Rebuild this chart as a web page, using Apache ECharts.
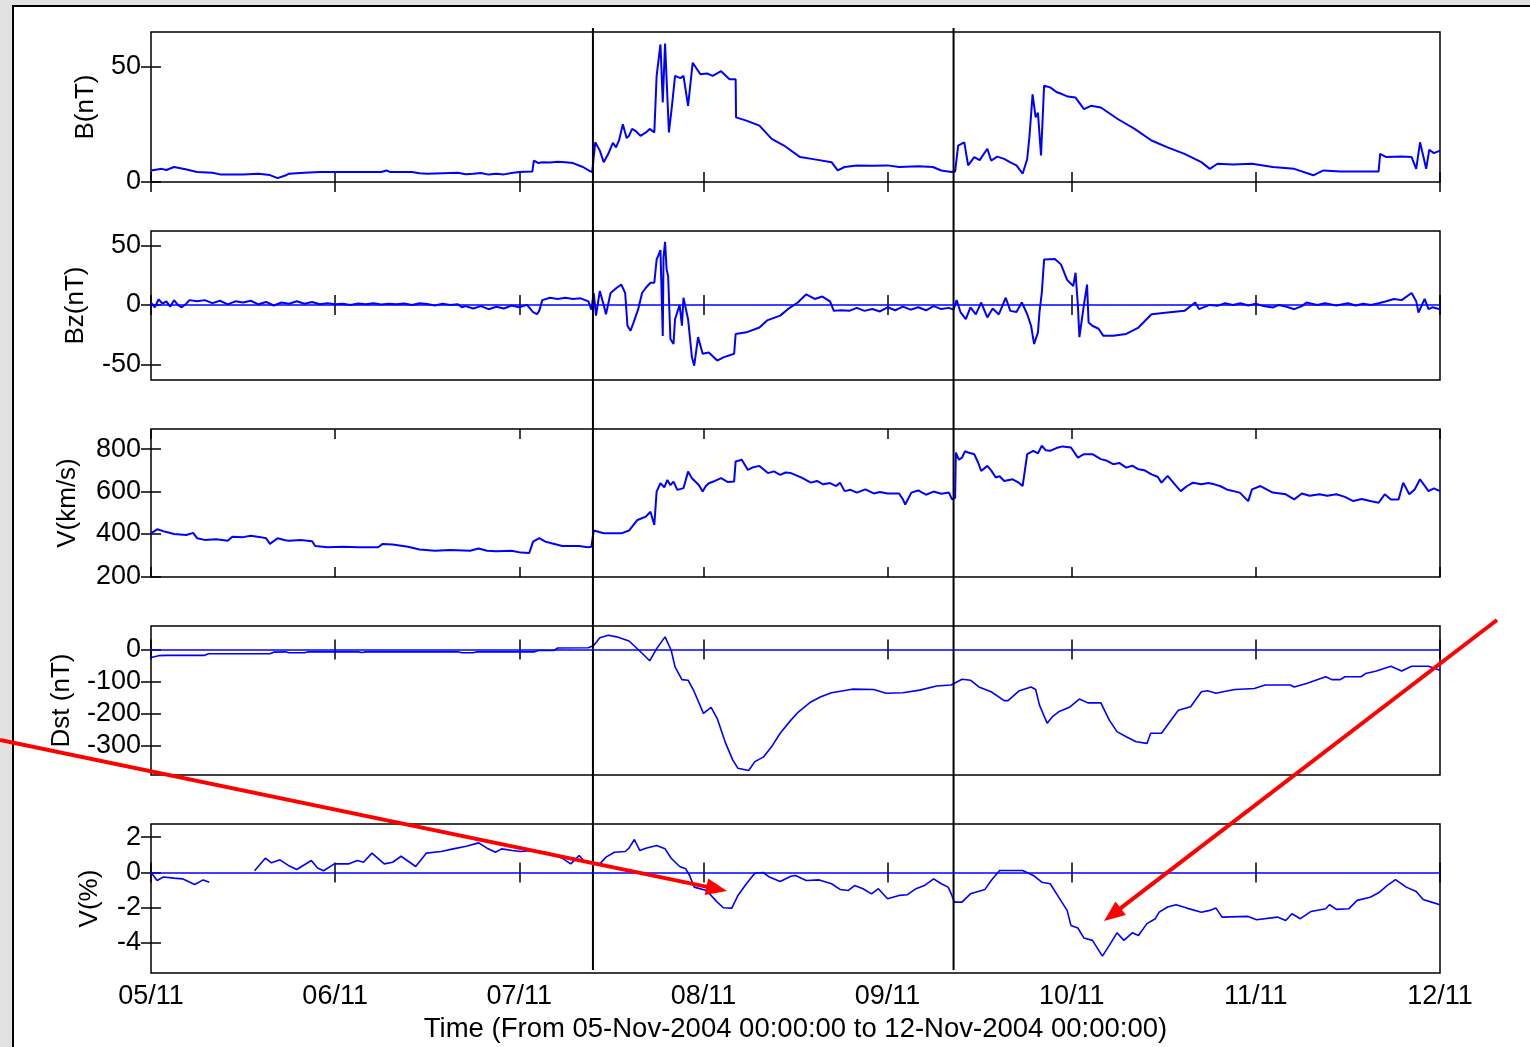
<!DOCTYPE html>
<html><head><meta charset="utf-8">
<script src="https://cdn.jsdelivr.net/npm/echarts@6/dist/echarts.min.js"></script>
<style>html,body{margin:0;padding:0;background:#e1e1e1}#c{width:1530px;height:1047px}</style>
</head><body><div id="c"></div>
<script>
// ---- Data (hours since 05-Nov-2004 00:00) ----
const xLabels = ['05/11','06/11','07/11','08/11','09/11','10/11','11/11','12/11'];
const xTitle = 'Time (From 05-Nov-2004 00:00:00 to 12-Nov-2004 00:00:00)';
const panelNames = ['B(nT)','Bz(nT)','V(km/s)','Dst (nT)','V(%)'];
const bTicks = [0,50];
const bzTicks = [-50,0,50];
const vTicks = [200,400,600,800];
const dstTicks = [-300,-200,-100,0];
const vpTicks = [-4,-2,0,2];
const eventHours = [57.6, 104.6];

const bData = [[0,5.0],[1.4,5.7],[2,5.2],[3,6.5],[4.5,5.5],[6,4.3],[8,4.0],[9,3.3],[10,3.2],[12,3.3],[14,3.6],[15.5,3.0],[16.5,1.7],[17.5,2.8],[18,3.6],[20,4.0],[22,4.3],[26,4.3],[30,4.3],[30.7,5.0],[31.2,4.3],[34,4.3],[35,3.8],[36,3.6],[38,3.8],[40,4.0],[41,3.4],[42,3.6],[43,3.9],[44,3.2],[45,3.6],[46,3.3],[47,3.9],[48,4.3],[49.7,4.5],[49.9,9.3],[50.5,8.2],[51,8.6],[52,8.4],[53,8.8],[54,8.6],[55,8.2],[56.3,6.5],[57.2,4.7],[57.5,4.3],[57.9,17.2],[58.5,13.6],[59,8.6],[59.6,12.2],[60.2,17],[60.6,15],[61,18],[61.5,25],[62,19],[62.3,20],[62.7,23],[63.2,22],[63.8,20],[64.5,21.5],[65,23],[65.6,21.5],[65.9,46],[66.4,59.6],[66.7,34.5],[67,60],[67.5,21.5],[67.9,33],[68.3,46],[69,45],[69.4,46],[70,33],[70.6,51.7],[71.6,46.7],[72.5,47],[73.2,46],[74.3,48],[75.4,44.5],[76.2,44.5],[76.25,28],[77.6,26.6],[79.3,24.4],[80.9,18.7],[82.5,15.8],[84.6,10.8],[86.5,9.8],[88.7,8.6],[89.5,5.0],[90.4,6.5],[92,7.2],[94,7.0],[96,7.2],[97.5,6.5],[100,6.8],[101.9,6.5],[103,5.0],[104.3,4.3],[104.8,4.5],[105.2,15.8],[106,17.2],[106.5,7.2],[107.3,10.8],[108,9.5],[109,14.4],[109.5,9.3],[110.3,11],[111.2,10],[112,8.5],[112.8,7.2],[113.6,3.6],[114.2,10],[114.5,20],[114.9,38],[115.3,28],[115.6,30],[116,11.5],[116.4,41.7],[117.2,41],[118,39],[118.8,38],[119.5,37],[120.5,36.6],[121.6,31.6],[122.5,33],[123.8,32.3],[126,27.3],[128.2,23],[130.4,18],[132.5,15],[134.7,12.2],[136.9,8.6],[138,5.7],[139,7.9],[141,7.6],[143.5,7.9],[146.2,6.5],[149,5.7],[151.5,2.9],[152.8,5.0],[155,4.6],[158,4.6],[160,4.6],[160.2,12.2],[161,10.8],[163,11],[164.3,10.8],[164.9,5.7],[165.4,17.2],[166.2,5.7],[166.6,14],[167.2,12.5],[168,13.6]];

const bzData = [[0,2],[0.5,-2],[1,4.7],[1.5,1],[2,3],[2.5,-1.5],[3,4],[3.5,0],[4,-2],[4.6,1],[5,4],[6,3],[7,4],[8,1.5],[9,3.5],[10,0.5],[11,3],[12,2],[13,3.5],[14,0.5],[15,2.5],[16,-0.5],[17,2],[18,1],[19,3],[20,1],[21,2.5],[22,0.5],[23,1.5],[24,0.5],[25,1],[26,0],[27,1.2],[28,0.5],[29,1.4],[30,0.3],[31,1],[32,0.5],[33,1.2],[34,0],[35,1.4],[36,0.8],[37,-0.5],[38,1],[39,0],[40,0.6],[40.5,-2],[41,-1],[42,-3],[43,-1],[44,-3.6],[45,-1.5],[46,-3],[47,-0.5],[48,-2],[49,0],[49.8,-6],[50.3,-7.8],[50.6,-5],[51,4],[52,6],[53,5],[54,6],[55,5],[56,5.5],[57,3],[57.4,-4],[57.7,10],[58,-9],[58.5,11.7],[59,0],[59.3,-7.8],[59.9,10],[60.7,14.4],[61.3,17],[61.8,10],[62.1,-17.5],[62.5,-21.7],[62.9,-14.7],[63.5,-3.6],[64,10],[64.5,14.4],[65.1,18.6],[65.6,18.6],[65.9,38],[66.4,46],[66.7,-26],[66.8,40],[67,53],[67.2,30],[67.4,24],[67.7,-28.6],[68.1,-32.8],[68.3,-12],[68.9,0],[69.2,-17.5],[69.4,6],[70,-12],[70.2,-13],[70.5,-44],[70.8,-51],[71.3,-27],[71.9,-41],[72.7,-40],[73.8,-46.7],[74.6,-44],[76,-41],[76.2,-24.4],[77.6,-23],[79.3,-19],[80.3,-13],[82,-9],[83,-3.6],[84.3,2],[85.4,8.9],[86.5,5],[87.5,7],[88.5,3],[89,-5],[90,-4.5],[91,-5],[92,-2.5],[93,-5],[94,-3.5],[95,-5.5],[96,-2],[97,-4.5],[98,-1.5],[99,-4],[100,-2],[101,-4.5],[102,-1],[103,-3.5],[104,-2.5],[104.6,-4],[105,4],[105.5,-6],[106.2,-12],[106.8,-2],[107.5,-8],[108.2,2],[109,-10.5],[109.7,-3],[110.5,-8],[111.4,6],[112,-5],[112.8,-6],[113.5,2],[114.2,-7.8],[114.7,-17.5],[115.1,-32.8],[115.6,-23],[115.8,-6],[116.1,10],[116.4,38],[117.8,38.6],[118.6,34],[119.4,21],[120.2,15.8],[120.5,27],[120.8,0],[121,-27],[121.6,0.5],[122,17],[122.2,-14.7],[122.7,-17.5],[123.5,-20],[124.1,-25.8],[125.4,-25.8],[127.1,-24.4],[128.7,-19],[130.4,-7.8],[132.5,-6.4],[134.7,-5],[136.1,2],[136.6,-3.6],[138,0],[139,-0.8],[140,1.4],[141,0],[142,1.4],[143,-0.5],[144,1],[145,-1],[146.2,-2.2],[147,0],[148,-1.5],[149,-3.6],[150,-1],[150.6,2],[152,0],[153,1.4],[154.5,-0.5],[156,1.4],[157,-0.5],[158,1],[159,0],[160,1.4],[161,3],[162,5],[163,4],[164.3,10],[164.9,3],[165.2,-6.4],[166,5],[166.5,-3.6],[167,-2],[168,-3.6]];

const vData = [[0,403],[0.8,422],[1.9,410],[3,400],[4.6,395],[5.5,405],[6,380],[7,372],[8.5,375],[10,368],[10.6,387],[12,385],[13,392],[14.3,385],[15,380],[15.5,353],[16.5,380],[17.5,370],[18,368],[19.5,372],[21,366],[21.4,343],[23,337],[25,340],[27,337],[29.6,337],[30.2,353],[31.5,350],[33.5,340],[35,327],[37,321],[39,324],[41.6,321],[42.7,331],[43.8,321],[45,318],[47,321],[48.2,312],[49.3,310],[49.8,364],[50.6,380],[51.4,364],[52.2,356],[53.6,343],[55.8,343],[56.9,337],[57.4,340],[57.7,416],[59,403],[61.3,403],[62.3,416],[63.4,466],[64.5,482],[65.1,505],[65.6,442],[65.9,600],[66.4,639],[66.9,620],[67.3,655],[67.7,630],[68.1,647],[68.6,608],[69.4,616],[70,694],[70.5,663],[71,645],[71.4,631],[71.9,600],[72.3,625],[72.7,639],[73.5,650],[74.3,663],[75.2,645],[76,647],[76.2,742],[77,750],[77.8,702],[78.5,715],[79.3,721],[80.4,687],[81.2,695],[82,679],[82.7,690],[83.4,687],[84.8,666],[86,642],[86.8,650],[87.6,634],[88.5,640],[89.3,626],[89.8,642],[90.4,602],[91.2,608],[92,595],[93.1,610],[94.2,591],[95,598],[96,591],[97.5,591],[98,563],[98.3,539],[99.1,595],[100,605],[101,585],[102,600],[103,590],[104,595],[104.4,563],[104.8,570],[104.9,784],[105.3,750],[105.7,760],[106.1,790],[106.5,784],[107.3,776],[107.8,737],[108.2,697],[109,721],[109.5,700],[110.1,666],[110.6,672],[111.2,650],[112.3,658],[113.1,642],[113.6,626],[114.2,776],[115,792],[115.6,780],[116.1,816],[116.6,795],[117.2,792],[118,805],[118.8,813],[119.9,808],[120.8,760],[121.6,776],[122.7,776],[123.8,753],[124.6,745],[125.4,729],[126.2,735],[127.1,713],[127.9,722],[128.7,705],[129.5,700],[130.4,681],[131.2,670],[131.7,642],[132.5,674],[133.3,640],[134.2,602],[135,625],[135.8,642],[136.9,634],[137.8,640],[138.6,634],[139.4,625],[140.2,610],[141.9,595],[143,555],[143.5,610],[144.6,626],[145.4,610],[146.2,595],[147.9,587],[149,563],[150,591],[151,580],[152.3,587],[153.3,580],[154.5,587],[155.6,575],[156.7,555],[157.8,565],[158.9,555],[160,547],[160.8,587],[161.6,563],[162.6,563],[163.2,642],[164,587],[164.7,610],[165.4,658],[166.5,602],[167.2,615],[168,602]];

const dstData = [[0,-25],[1,-19],[2,-18],[7,-18],[7.5,-13],[15.5,-13],[16,-8],[17.5,-7],[18,-10],[20,-10],[20.5,-7],[27,-7],[27.5,-9],[28,-7],[40,-7],[40.5,-10],[42,-10],[42.5,-7],[50,-7],[50.5,-3],[52.5,-3],[53,5],[57,6],[57.7,13],[58.5,37],[59.6,45],[60.7,40],[62.3,27],[63.6,-2],[65,-35],[65.9,3],[67,40],[67.8,-2],[68.3,-54],[69.2,-94],[70,-96],[70.8,-132],[72,-200],[73,-181],[73.8,-216],[74.9,-294],[75.8,-345],[76.5,-372],[77.9,-379],[78.7,-351],[79.8,-337],[80.9,-304],[82,-262],[83.4,-221],[84.4,-195],[86,-164],[87.3,-148],[88.7,-135],[91.4,-124],[94.2,-125],[95.8,-137],[98,-135],[100.2,-127],[102.4,-114],[104.3,-111],[105.7,-93],[106.8,-96],[107.9,-117],[109.5,-132],[111.2,-160],[111.7,-160],[113.1,-130],[114.7,-117],[115.3,-125],[115.8,-174],[116.8,-231],[117.5,-210],[118.3,-195],[119.7,-181],[121,-155],[122.1,-167],[123.8,-167],[124.9,-221],[125.9,-257],[127.1,-273],[128.4,-289],[129.8,-294],[130.3,-262],[131.7,-262],[133.1,-216],[133.9,-190],[135.5,-179],[136.9,-132],[137.7,-129],[138.8,-137],[140.2,-130],[141.3,-125],[143.8,-122],[145.2,-111],[148.5,-111],[149,-117],[150.6,-106],[153.1,-85],[153.9,-94],[155,-94],[155.6,-85],[157.7,-85],[158.3,-75],[159.6,-68],[161.6,-52],[163,-67],[164.3,-52],[166.5,-52],[168,-65]];

const vpData = [[0,0],[0.8,-0.45],[1.6,-0.26],[3,-0.32],[4.1,-0.36],[5.7,-0.68],[6.8,-0.42],[7.6,-0.55],[10,'-'],[13.5,0.1],[14.9,0.81],[15.7,0.55],[16.8,0.72],[17.9,0.4],[19,0.17],[20.9,0.68],[21.7,0.25],[22.5,0.1],[23.9,0.49],[25.8,0.49],[26.9,0.68],[27.7,0.58],[28.8,1.1],[30.4,0.49],[31.5,0.58],[32.6,0.92],[34.5,0.34],[35.9,1.1],[37.8,1.19],[39.4,1.34],[41.1,1.49],[42.7,1.68],[43.8,1.38],[44.9,1.15],[45.7,1.34],[47.1,1.25],[48.2,1.19],[49.8,1.25],[51.4,1.15],[52.2,1.06],[53.6,0.81],[54.7,0.49],[55.8,0.96],[56.6,0.58],[57.4,0.58],[58.5,0.49],[59.3,0.87],[60.4,1.15],[61.8,1.19],[62.3,1.38],[63,1.87],[63.7,1.25],[64.5,1.38],[65.9,1.53],[67,1.34],[67.8,0.81],[68.9,0.34],[69.7,0.21],[70.2,-0.17],[70.8,-0.83],[72.4,-1.02],[73.8,-1.68],[74.6,-2.0],[75.7,-2.02],[76.5,-1.3],[77.6,-0.64],[78.7,-0.04],[79.8,0],[80.6,-0.26],[82,-0.51],[83.4,-0.21],[84,-0.17],[85.4,-0.45],[87.1,-0.42],[88.7,-0.64],[89.8,-0.96],[90.9,-1.02],[91.7,-0.74],[92.8,-0.92],[93.9,-1.21],[94.8,-0.92],[96,-1.49],[97.5,-1.3],[98.6,-1.26],[99.7,-0.92],[100.8,-0.74],[102,-0.36],[103,-0.64],[103.9,-0.83],[104.3,-1.21],[104.7,-1.68],[105.7,-1.68],[106.8,-1.21],[108.7,-0.96],[109.5,-0.45],[110.6,0.11],[112.3,0.11],[113.6,0.11],[115,-0.17],[116.1,-0.55],[117.2,-0.64],[118.3,-1.4],[119.4,-2.15],[119.9,-3.0],[120.8,-3.15],[121.6,-3.72],[122.7,-3.85],[124,-4.74],[124.9,-4.13],[125.9,-3.42],[126.8,-3.85],[127.9,-3.42],[128.7,-3.57],[129.8,-2.9],[130.9,-2.62],[131.4,-2.25],[132.5,-1.96],[133.6,-1.83],[135,-2.02],[136.9,-2.25],[138,-2.15],[138.8,-2.02],[139.6,-2.53],[143,-2.49],[144.1,-2.68],[146.8,-2.53],[147.9,-2.72],[148.7,-2.34],[149.8,-2.62],[151.2,-2.21],[153.1,-2.06],[153.6,-1.83],[154.5,-2.09],[156.1,-2.06],[157.2,-1.58],[158.9,-1.4],[160,-1.15],[161.1,-0.74],[162.2,-0.4],[163.6,-0.83],[164.9,-1.08],[165.8,-1.53],[166.9,-1.68],[168,-1.83]];

// ---- Layout / style ----
const FONT = '"Liberation Sans", Arial, sans-serif';
const panels = [
  {name:panelNames[0], data:bData,   ticks:bTicks,   min:0,    max:65,   top:32,  height:150, gap:52, zero:false, w:2},
  {name:panelNames[1], data:bzData,  ticks:bzTicks,  min:-63,  max:62,   top:231, height:149, gap:62, zero:true,  w:2},
  {name:panelNames[2], data:vData,   ticks:vTicks,   min:197,  max:895,  top:429, height:148, gap:70, zero:false, w:2},
  {name:panelNames[3], data:dstData, ticks:dstTicks, min:-393, max:74,   top:626, height:149, gap:76, zero:true,  w:1.6},
  {name:panelNames[4], data:vpData,  ticks:vpTicks,  min:-5.7, max:2.75, top:824, height:149, gap:48, zero:true,  w:1.6}
];
const grid=[], xAxis=[], yAxis=[], series=[];
const tickStyle = {show:true, inside:true, length:10, lineStyle:{color:'#000', width:1.5}};
const tickTxt = {fontSize:27, fontFamily:FONT, color:'#000'};
const nameTxt = {fontSize:26, fontFamily:FONT, color:'#000'};
const titleTxt = {fontSize:27.5, fontFamily:FONT, color:'#000'};
panels.forEach((p,i)=>{
  const last = i===panels.length-1;
  grid.push({left:151, width:1289, top:p.top, height:p.height, show:true, borderColor:'#000', borderWidth:1.5, backgroundColor:'#fff'});
  xAxis.push({gridIndex:i, type:'value', min:0, max:168, interval:24, position:'bottom',
    axisLine:{show:false}, axisTick:tickStyle, splitLine:{show:false},
    axisLabel:Object.assign({show:last, margin:10, formatter:v=>xLabels[Math.round(v/24)]}, tickTxt),
    name:last?xTitle:'', nameLocation:'middle', nameGap:42, nameTextStyle:titleTxt});
  xAxis.push({gridIndex:i, type:'value', min:0, max:168, interval:24, position:'top',
    axisLine:{show:false}, axisTick:tickStyle, splitLine:{show:false}, axisLabel:{show:false}});
  yAxis.push({gridIndex:i, type:'value', min:p.min, max:p.max, position:'left',
    axisLine:{show:false}, splitLine:{show:false},
    axisTick:Object.assign({}, tickStyle, {customValues:p.ticks}),
    axisLabel:Object.assign({customValues:p.ticks, margin:10}, tickTxt),
    name:p.name, nameLocation:'middle', nameGap:p.gap, nameTextStyle:nameTxt});
  yAxis.push({gridIndex:i, type:'value', min:p.min, max:p.max, position:'right',
    axisLine:{show:false}, splitLine:{show:false},
    axisTick:Object.assign({}, tickStyle, {customValues:p.ticks}),
    axisLabel:{show:false, customValues:p.ticks}});
  const s = {type:'line', xAxisIndex:2*i, yAxisIndex:2*i, data:p.data, symbol:'none', showSymbol:false,
    lineStyle:{color:'#0000ff', width:p.w}, silent:true, z:3};
  if (p.zero) s.markLine = {silent:true, symbol:'none', label:{show:false},
    lineStyle:{color:'#0000ff', type:'solid', width:1.6}, emphasis:{disabled:true}, data:[{yAxis:0}]};
  series.push(s);
});
// overlay grid for event lines spanning all panels
grid.push({left:151, width:1289, top:28, height:942, show:false});
xAxis.push({gridIndex:5, type:'value', min:0, max:168, show:false});
yAxis.push({gridIndex:5, type:'value', min:0, max:1, show:false});
eventHours.forEach(h=>{
  series.push({type:'line', xAxisIndex:10, yAxisIndex:10, data:[[h,0],[h,1]], symbol:'none',
    lineStyle:{color:'#000', width:2}, silent:true, z:4});
});

function arrow(x0,y0,x1,y1){
  const dx=x1-x0, dy=y1-y0, L=Math.hypot(dx,dy), ux=dx/L, uy=dy/L;
  const hl=21, hw=8.5, bx=x1-ux*hl, by=y1-uy*hl, nx=-uy, ny=ux;
  return [
    {type:'line', z:100, shape:{x1:x0,y1:y0,x2:bx+ux*2,y2:by+uy*2}, style:{stroke:'#ff0000', lineWidth:4}},
    {type:'polygon', z:100, shape:{points:[[x1,y1],[bx+nx*hw,by+ny*hw],[bx-nx*hw,by-ny*hw]]}, style:{fill:'#ff0000'}}
  ];
}
const graphic = [
  {type:'rect', z:-10, shape:{x:13,y:6,width:1530,height:1060}, style:{fill:'#fff', stroke:'#000', lineWidth:2}},
  ...arrow(0,740,727,891),
  ...arrow(1497,620,1104,921)
];

const chart = echarts.init(document.getElementById('c'), null, {renderer:'canvas'});
chart.setOption({backgroundColor:'#e1e1e1', animation:false, grid, xAxis, yAxis, series, graphic});
</script></body></html>
